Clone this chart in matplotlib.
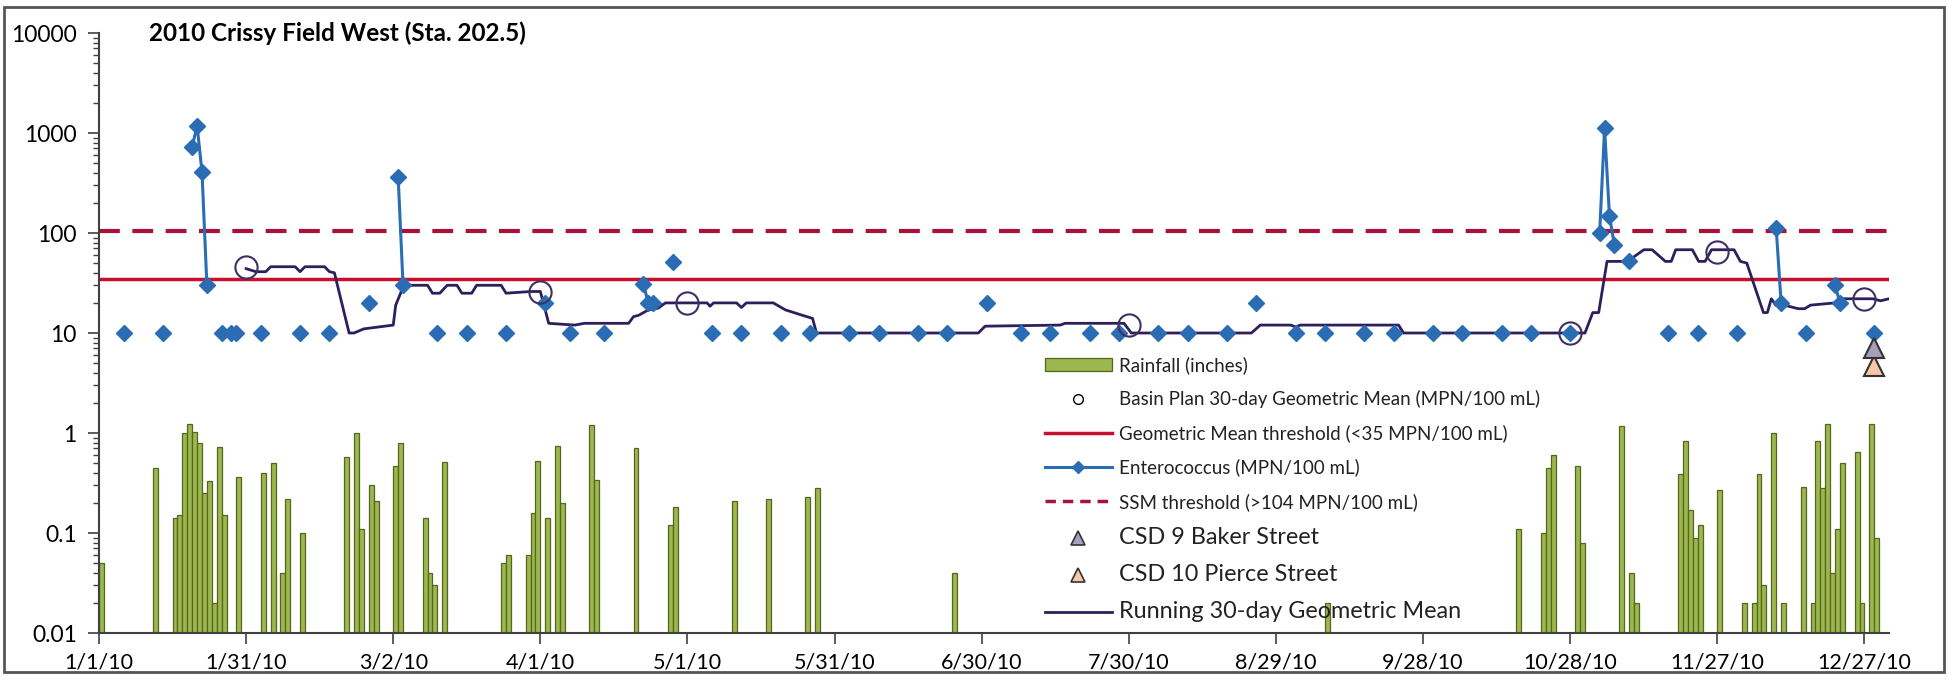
import numpy as np
import matplotlib
matplotlib.use('Agg')
from matplotlib import pyplot as plt
from matplotlib.lines import Line2D
from matplotlib.patches import Patch, Rectangle
from matplotlib.ticker import NullFormatter

plt.rcParams['font.family'] = ['Lato', 'DejaVu Sans']

title = '2010 Crissy Field West (Sta. 202.5)'

# x values are days since 1/1/10
tick_days = [0, 30, 60, 90, 120, 150, 180, 210, 240, 270, 300, 330, 360]
tick_labels = ['1/1/10', '1/31/10', '3/2/10', '4/1/10', '5/1/10', '5/31/10', '6/30/10',
               '7/30/10', '8/29/10', '9/28/10', '10/28/10', '11/27/10', '12/27/10']
y_ticks = [0.01, 0.1, 1, 10, 100, 1000, 10000]
y_labels = ['0.01', '0.1', '1', '10', '100', '1000', '10000']

# enterococcus samples (MPN/100 mL)
ent_day = [5, 13, 19, 20, 21, 22, 25, 27, 28, 33, 41, 47, 55, 61, 62, 69, 75, 83, 91,
           96, 103, 111, 112, 113, 117, 125, 131, 139, 145, 153, 159, 167, 173, 181, 188,
           194, 202, 208, 216, 222, 230, 236, 244, 250, 258, 264, 272, 278, 286,
           292, 300, 306, 307, 308, 309, 312, 320, 326, 334, 342, 343, 348, 354, 355, 362]
ent_val = [10, 10, 730, 1180, 410, 30, 10, 10, 10, 10, 10, 10, 20, 365, 30, 10, 10, 10, 20,
           10, 10, 31, 20, 20, 51, 10, 10, 10, 10, 10, 10, 10, 10, 20, 10,
           10, 10, 10, 10, 10, 10, 20, 10, 10, 10, 10, 10, 10, 10,
           10, 10, 100, 1110, 148, 76, 52, 10, 10, 10, 111, 20, 10, 30, 20, 10]

# basin plan 30-day geometric mean
bp_day = [30, 90, 120, 210, 300, 330, 360]
bp_val = [46, 26, 20, 12, 10, 65, 22]

# running 30-day geometric mean
gm_day = [30, 32, 34, 35, 40, 41, 42, 46, 47, 48, 51, 52, 54, 60, 60.5, 61.5, 62, 67, 68,
          69.5, 71, 73, 74, 76, 77, 82, 83, 88, 90, 91.7, 97, 99, 108, 109, 110, 112, 114,
          115.5, 124, 124.6, 125.3, 130, 131, 132, 137.5, 140, 143.5, 145.5, 146.3, 179.3,
          180.7, 196, 197, 209, 210.5, 235, 236.8, 243, 244, 245, 265, 266, 303, 304.6,
          305.8, 307.5, 311.7, 315, 316.7, 319.4, 320.6, 321.5, 324.9, 326.2, 327.5, 328.8,
          333.4, 334.7, 336, 339.4, 340.2, 341, 341.9, 343.6, 346.5, 347.8, 349, 354, 354.9,
          361.7, 363.3, 365]
gm_val = [44, 41, 41, 46, 46, 41, 46, 46, 41, 40, 10, 10, 11, 12, 19, 25, 30, 30, 25,
          25, 30, 30, 25, 25, 30, 30, 25, 26, 26, 12.5, 12, 12.5, 12.5, 14.6, 15, 17, 17.7,
          20, 20, 18.5, 20, 20, 18, 20, 20, 17, 15, 14, 10, 10,
          11.7, 12, 12.5, 12.5, 10, 10, 12, 12, 11.5, 12, 12, 10, 10, 16,
          16, 52, 52, 68, 68, 52, 52, 68, 68, 52, 52, 68,
          68, 52, 50, 16, 16, 22, 19, 19, 17.5, 17.5, 19, 20, 22,
          22, 21, 22]

gm_threshold = 35
ssm_threshold = 104

# rainfall (inches)
rain_day = [0, 11, 15, 16, 17, 18, 19, 20, 21, 22, 23, 24, 25, 28, 33, 35, 37, 38, 41,
            50, 52, 53, 55, 56, 60, 61, 66, 67, 68, 70, 82, 83, 87, 88, 89, 91, 93, 94,
            100, 101, 109, 116, 117, 129, 136, 144, 146, 174, 250,
            289, 294, 295, 296, 301, 302, 310, 312, 313, 322, 323, 324, 325, 326, 330,
            335, 337, 338, 339, 341, 343, 347, 349, 350, 351, 352, 353, 354, 355, 358,
            359, 361, 362]
rain_in = [0.05, 0.45, 0.14, 0.15, 1.0, 1.23, 1.03, 0.79, 0.25, 0.33, 0.02, 0.72, 0.15, 0.36,
           0.4, 0.5, 0.04, 0.22, 0.1,
           0.58, 1.0, 0.11, 0.3, 0.21, 0.47, 0.79, 0.14, 0.04, 0.03, 0.51, 0.05, 0.06, 0.06,
           0.16, 0.53, 0.14, 0.74, 0.2,
           1.2, 0.34, 0.7, 0.12, 0.18, 0.21, 0.22, 0.23, 0.28, 0.04, 0.02,
           0.11, 0.1, 0.45, 0.6, 0.47, 0.08, 1.18, 0.04, 0.02, 0.39, 0.84, 0.17, 0.09, 0.12,
           0.27,
           0.02, 0.02, 0.39, 0.03, 1.0, 0.02, 0.29, 0.02, 0.83, 0.28, 1.23, 0.04, 0.11, 0.5,
           0.65,
           0.02, 1.23, 0.09]

# combined sewer discharges
csd9_day, csd9_val = [362], [7]
csd10_day, csd10_val = [362], [4.7]

green = '#9bb84f'
green_edge = '#56661f'
blue = '#2a6db5'
red = '#c8102e'
dark_red = '#a8123a'
navy = '#2e1f5c'

fig = plt.figure(figsize=(19.48, 6.8), dpi=100)
ax = fig.add_axes([99 / 1948, 1 - 633 / 680, (1889 - 99) / 1948, 600 / 680])
ax.set_yscale('log')

floor = 0.01
ax.bar(rain_day, np.array(rain_in) - floor, bottom=floor, width=1, align='edge',
       color=green, edgecolor=green_edge, linewidth=0.9, zorder=1)

ax.axhline(ssm_threshold, color=dark_red, lw=3, ls=(0, (5, 3)), zorder=2)
ax.axhline(gm_threshold, color=red, lw=2.5, zorder=2)

# enterococcus: lines only join samples on consecutive days
ent_day_a = np.array(ent_day)
ent_val_a = np.array(ent_val, dtype=float)
start = 0
for i in range(1, len(ent_day_a) + 1):
    if i == len(ent_day_a) or ent_day_a[i] - ent_day_a[i - 1] > 1:
        if i - start > 1:
            ax.plot(ent_day_a[start:i], ent_val_a[start:i], color=blue, lw=2.2, zorder=3)
        start = i
ax.plot(ent_day, ent_val, ls='none', marker='D', ms=8, color=blue, zorder=5)

ax.plot(gm_day, gm_val, color=navy, lw=2, zorder=4)
ax.plot(bp_day, bp_val, ls='none', marker='o', ms=16, mfc='none', mec='#3d2f63',
        mew=1.5, zorder=6)

ax.plot(csd10_day, csd10_val, ls='none', marker='^', ms=15, mfc='#f6c7a8', mec='#333333',
        mew=1.5, zorder=7)
ax.plot(csd9_day, csd9_val, ls='none', marker='^', ms=15, mfc='#a89fb8', mec='#333333',
        mew=1.5, zorder=7)

ax.set_xlim(0, 365)
ax.set_ylim(0.01, 10000)
ax.set_xticks(tick_days)
ax.set_xticklabels(tick_labels)
ax.set_yticks(y_ticks)
ax.set_yticklabels(y_labels)
ax.yaxis.set_minor_formatter(NullFormatter())
for s in ['top', 'right']:
    ax.spines[s].set_visible(False)
for s in ['left', 'bottom']:
    ax.spines[s].set_color('#404040')
    ax.spines[s].set_linewidth(1.5)
ax.tick_params(axis='y', which='major', length=8, width=1.2, pad=8, labelsize=16.5,
               colors='#404040', labelcolor='black')
ax.tick_params(axis='y', which='minor', length=4, width=1, colors='#404040')
ax.tick_params(axis='x', length=8, width=1.2, pad=6, labelsize=15.5, colors='#404040',
               labelcolor='black')

fig.text(149 / 1948, 1 - 33 / 680, title, fontsize=17.5, fontweight='bold', va='center')

handles = [
    Patch(facecolor=green, edgecolor=green_edge, linewidth=0.9),
    Line2D([], [], ls='none', marker='o', ms=7, mfc='none', mec='black', mew=1),
    Line2D([], [], color=red, lw=2.5),
    Line2D([], [], color=blue, lw=2.2, marker='D', ms=6),
    Line2D([], [], color=dark_red, lw=2.5, ls=(0, (3, 2))),
    Line2D([], [], ls='none', marker='^', ms=10, mfc='#a89fb8', mec='#333333', mew=1.2),
    Line2D([], [], ls='none', marker='^', ms=10, mfc='#f6c7a8', mec='#333333', mew=1.2),
    Line2D([], [], color=navy, lw=2),
]
labels = ['Rainfall (inches)', 'Basin Plan 30-day Geometric Mean (MPN/100 mL)',
          'Geometric Mean threshold (<35 MPN/100 mL)', 'Enterococcus (MPN/100 mL)',
          'SSM threshold (>104 MPN/100 mL)', 'CSD 9 Baker Street', 'CSD 10 Pierce Street',
          'Running 30-day Geometric Mean']
leg = fig.legend(handles, labels, loc='upper left', bbox_to_anchor=(1036 / 1948, 1 - 347 / 680),
                 frameon=False, fontsize=13, handlelength=3.7, handletextpad=0.4,
                 labelspacing=0.9, borderpad=0)
for t, size in zip(leg.get_texts(), [13.5, 13.5, 13.5, 13.5, 13.5, 16.8, 16.8, 16.8]):
    t.set_fontsize(size)
    t.set_color('#222222')

fig.add_artist(Rectangle((4 / 1948, 8 / 680), 1940 / 1948, 665 / 680,
                         transform=fig.transFigure, fill=False, edgecolor='#555555', lw=2))

fig.savefig('out.png', dpi=100)
